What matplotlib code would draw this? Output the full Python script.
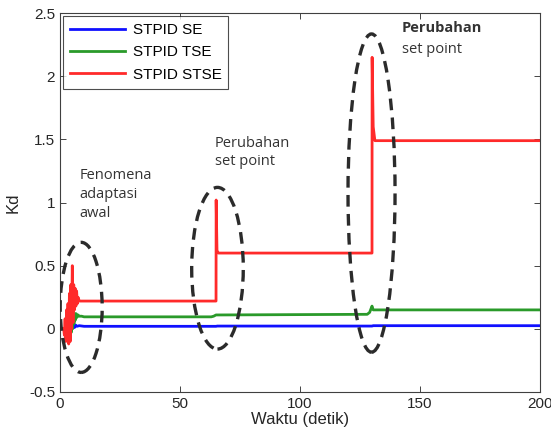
import matplotlib
matplotlib.use("Agg")
import matplotlib.pyplot as plt
from matplotlib.patches import Ellipse

plt.rcParams['font.family'] = ['Liberation Sans', 'DejaVu Sans']

# Kd trajectories (time in seconds, gain value)
se_t = [0, 4.0, 4.5, 5.0, 5.5, 6.0, 6.5, 7.0, 8.0, 10.0, 65.0, 65.5, 130.0, 130.5, 200]
se_y = [0, 0.0, 0.03, 0.0, 0.035, 0.01, 0.03, 0.02, 0.025, 0.02, 0.02, 0.022, 0.022, 0.025, 0.025]

tse_t = [0, 3.5, 4.0, 4.3, 4.6, 4.9, 5.2, 5.5, 5.8, 6.1, 6.4, 6.7, 7.0, 7.5, 8.0, 9.0, 10.0,
         63.0, 64.0, 65.0, 66.0, 128.0, 129.0, 130.0, 130.5, 131.5, 200]
tse_y = [0, 0.0, -0.05, 0.08, -0.03, 0.11, 0.0, 0.12, 0.04, 0.12, 0.07, 0.12, 0.09, 0.11, 0.1, 0.1, 0.095,
         0.095, 0.1, 0.11, 0.11, 0.115, 0.13, 0.18, 0.15, 0.15, 0.15]

stse_t = [0, 1.5, 1.8, 2.1, 2.4, 2.7, 3.0, 3.3, 3.6, 3.9, 4.2, 4.5, 4.8, 5.1, 5.4, 5.7, 6.0, 6.3,
          6.6, 6.9, 7.2, 7.5, 8.0, 9.0, 65.0, 65.05, 65.4, 66.0, 130.0, 130.05, 130.5, 131.2, 200]
stse_y = [0, 0.0, -0.05, 0.08, -0.1, 0.15, -0.08, 0.2, -0.12, 0.28, -0.1, 0.35, 0.0, 0.5, 0.05, 0.35,
          0.15, 0.32, 0.18, 0.3, 0.2, 0.25, 0.22, 0.22, 0.22, 1.02, 0.62, 0.6, 0.6, 2.15, 1.6, 1.49, 1.49]

# ellipse markers: (center t, center Kd, width, height)
rings = [(8.8, 0.17, 17.5, 1.03), (65.6, 0.48, 21.5, 1.28), (129.8, 1.075, 19.6, 2.52)]

fig = plt.figure(figsize=(5.51, 4.34), dpi=100)
ax = fig.add_axes([0.109, 0.0968, 0.871, 0.873])

ax.plot(se_t, se_y, color='#1010ff', lw=2, label='STPID SE')
ax.plot(tse_t, tse_y, color='#2a9a2a', lw=2, label='STPID TSE')
ax.plot(stse_t, stse_y, color='#ff2a2a', lw=2, label='STPID STSE')

for cx, cy, w, h in rings:
    ax.add_patch(Ellipse((cx, cy), w, h, fill=False, ec='#2b2b2b', lw=2.4,
                         ls=(0, (3.5, 2.2)), zorder=5))

txt = dict(family=['Open Sans', 'DejaVu Sans'], fontsize=10.5, color='#333333',
           va='top', ha='left', linespacing=1.35)
ax.text(8.0, 1.27, 'Fenomena\nadaptasi\nawal', **txt)
ax.text(64.5, 1.53, 'Perubahan\nset point', **txt)
ax.text(142.5, 2.44, 'Perubahan', fontweight='bold', **txt)
ax.text(142.5, 2.27, 'set point', **txt)

ax.set_xlim(0, 200)
ax.set_ylim(-0.5, 2.5)
ax.set_xticks([0, 50, 100, 150, 200])
ax.set_yticks([-0.5, 0, 0.5, 1, 1.5, 2, 2.5])
ax.set_yticklabels(['-0.5', '0', '0.5', '1', '1.5', '2', '2.5'])
ax.tick_params(direction='in', top=True, right=True, labelsize=11, colors='#262626',
               length=4, width=0.6)
for s in ax.spines.values():
    s.set_color('#404040')
    s.set_linewidth(0.8)

ax.set_xlabel('Waktu (detik)', fontsize=12, labelpad=1, color='#262626')
ax.set_ylabel('Kd', fontsize=12, labelpad=6, color='#262626')

leg = ax.legend(loc='upper left', fontsize=11, frameon=True, fancybox=False,
                borderaxespad=0.2, handlelength=3.6, handletextpad=0.5,
                labelspacing=0.55, borderpad=0.45)
leg.get_frame().set_edgecolor('#202020')
leg.get_frame().set_linewidth(0.8)

fig.savefig('out.png', dpi=100)
